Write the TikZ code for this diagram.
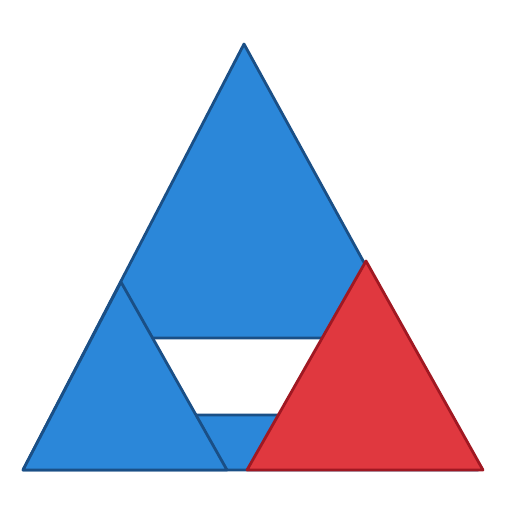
\documentclass[tikz,border=0pt]{standalone}
\definecolor{bluefill}{HTML}{2B87D9}
\definecolor{blueline}{HTML}{1A4F86}
\definecolor{redfill}{HTML}{E0383F}
\definecolor{redline}{HTML}{A01822}
\begin{document}
\begin{tikzpicture}[x=0.02cm,y=-0.02cm,line join=round,line width=1.6pt]
\useasboundingbox (0,0) rectangle (512,512);
\draw[fill=bluefill,draw=blueline] (23,470)--(244,44)--(478,470)--cycle;
\draw[fill=white,draw=blueline] (140,338)--(340,338)--(300,415)--(180,415)--cycle;
\draw[fill=bluefill,draw=blueline] (23,470)--(121,282)--(227,470)--cycle;
\draw[fill=redfill,draw=redline] (247,470)--(366,261)--(483,470)--cycle;
\end{tikzpicture}
\end{document}
